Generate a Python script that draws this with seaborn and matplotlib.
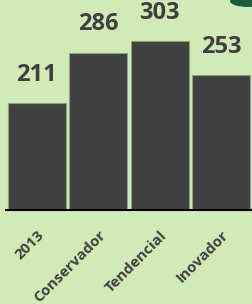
import matplotlib
matplotlib.use("Agg")
import matplotlib.pyplot as plt
from matplotlib.patches import Ellipse
import seaborn as sns
import pandas as pd

categories = ["2013", "Conservador", "Tendencial", "Inovador"]
values = [211, 286, 303, 253]

sns.set_theme(style="white")
plt.rcParams['font.family'] = ['Open Sans', 'DejaVu Sans']

bg = "#d0ebb8"
bar_color = "#404040"
text_color = "#404040"

fig = plt.figure(figsize=(2.52, 3.04), dpi=100, facecolor=bg)
ax = fig.add_axes([6 / 252, 94 / 304, 246 / 252, 210 / 304])
ax.set_facecolor(bg)

df = pd.DataFrame({"cat": categories, "val": values})
sns.barplot(data=df, x="cat", y="val", color=bar_color, saturation=1,
            width=0.945, edgecolor="#8aa37a", linewidth=0.8, ax=ax)

ax.set_ylim(52, 364)
ax.set_xlim(-0.5, 3.5)
for i, v in enumerate(values):
    ax.text(i, v + 24, str(v), ha="center", va="bottom", fontsize=17,
            fontweight="bold", color=text_color)

ax.set_xlabel("")
ax.set_ylabel("")
ax.set_yticks([])
ax.tick_params(axis="x", length=0, pad=13)
ax.set_xticks(range(len(categories)))
ax.set_xticklabels(categories, rotation=45, ha="right", rotation_mode="anchor",
                   fontsize=10.8, fontweight="bold", color=text_color)
for s in ["top", "right", "left"]:
    ax.spines[s].set_visible(False)
ax.spines["bottom"].set_color("black")
ax.spines["bottom"].set_linewidth(1.5)

# decorative corner blob
fig.patches.append(Ellipse((248 / 252, 1 - 1 / 304), 36 / 252, 12 / 304,
                           transform=fig.transFigure, facecolor="#1e5a3c",
                           edgecolor="none"))

fig.savefig("out.png", dpi=100, facecolor=bg)
